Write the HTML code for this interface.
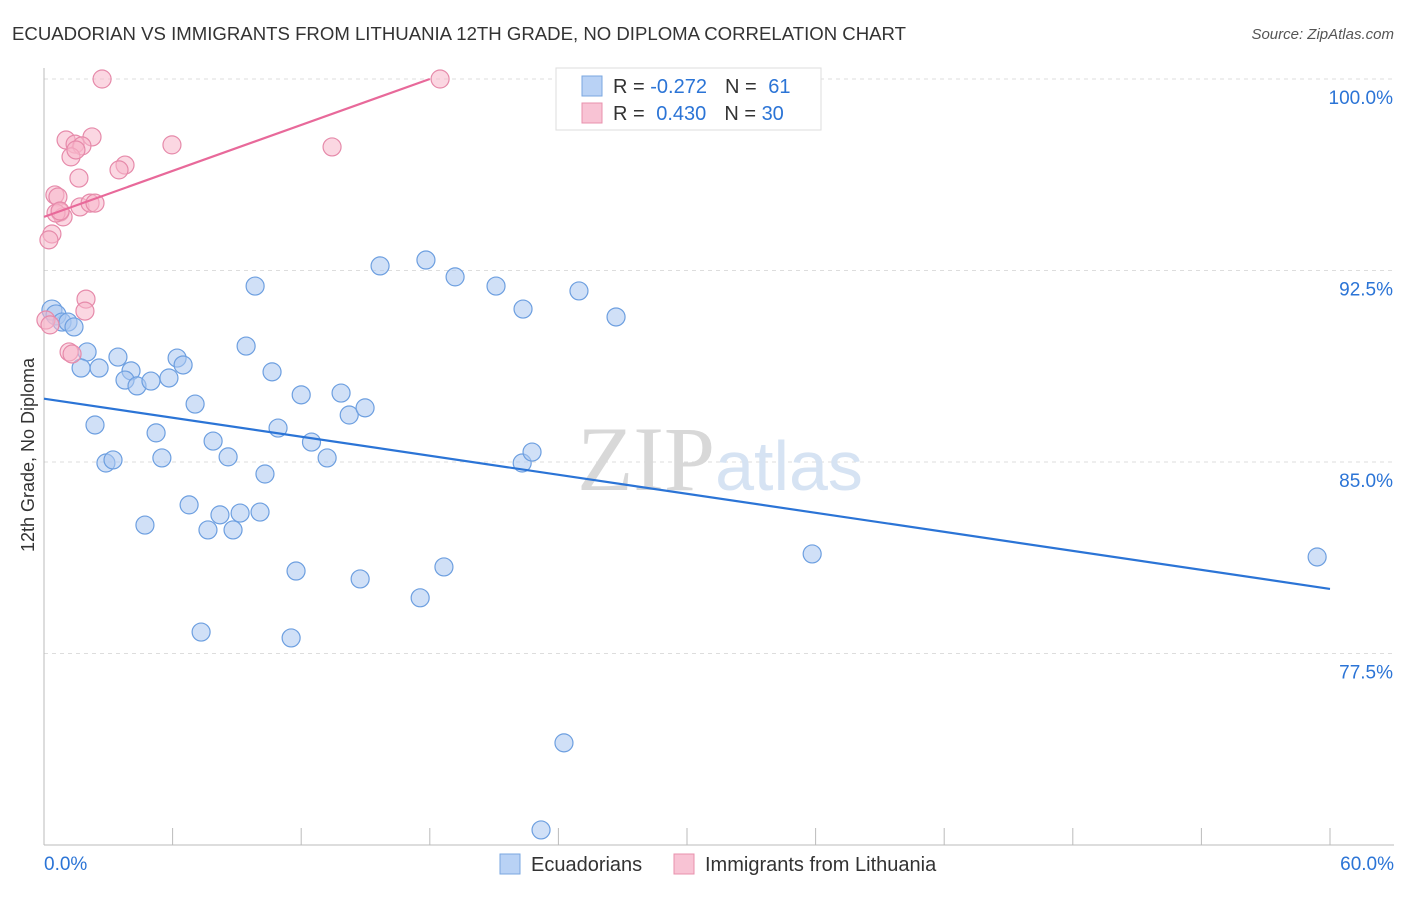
<!DOCTYPE html>
<html><head><meta charset="utf-8">
<style>
body{margin:0;background:#fff;font-family:"Liberation Sans",sans-serif;}
svg text{font-family:"Liberation Sans",sans-serif;}
</style></head>
<body>
<svg id="chart" width="1406" height="892" xmlns="http://www.w3.org/2000/svg">
<text x="12" y="40" font-size="18.6" fill="#333">ECUADORIAN VS IMMIGRANTS FROM LITHUANIA 12TH GRADE, NO DIPLOMA CORRELATION CHART</text>
<text x="1394" y="39" font-size="15" fill="#555" font-style="italic" text-anchor="end">Source: ZipAtlas.com</text>
<text x="34" y="455" font-size="18" fill="#333" text-anchor="middle" transform="rotate(-90 34 455)">12th Grade, No Diploma</text>
<g id="grid"></g>
<g id="axes"></g>
<text x="720" y="490" font-size="92" fill="#e4e4e4" text-anchor="middle" font-family="Liberation Serif"><tspan fill="#d8d8d8" font-family="Liberation Serif">ZIP</tspan><tspan fill="#d6e3f3" font-size="70" font-family="Liberation Sans">atlas</tspan></text>
<g id="marks"></g>
<g>
<rect x="556" y="68" width="265" height="62" fill="#fff" stroke="#ddd"/>
<rect x="582" y="76" width="20" height="20" fill="#b9d2f5" stroke="#7aa7e0"/>
<rect x="582" y="103" width="20" height="20" fill="#f8c3d4" stroke="#e890ad"/>
<text x="613" y="93" font-size="20" fill="#333">R = <tspan fill="#2b74d6">-0.272</tspan><tspan dx="18">N = </tspan><tspan fill="#2b74d6" dx="6">61</tspan></text>
<text x="613" y="120" font-size="20" fill="#333">R = <tspan fill="#2b74d6" dx="6">0.430</tspan><tspan dx="18">N = </tspan><tspan fill="#2b74d6">30</tspan></text>
</g>
<g>
<rect x="500" y="854" width="20" height="20" fill="#b9d2f5" stroke="#7aa7e0"/>
<text x="531" y="871" font-size="20" fill="#333">Ecuadorians</text>
<rect x="674" y="854" width="20" height="20" fill="#f8c3d4" stroke="#e890ad"/>
<text x="705" y="871" font-size="20" fill="#333">Immigrants from Lithuania</text>
</g>
</svg>
<script>
const yTicks=[100,92.5,85,77.5];
const yTickLabels=["100.0%","92.5%","85.0%","77.5%"];
const xTickLabels=["0.0%","60.0%"];
const blueX=[0.37,0.56,0.84,1.12,1.40,2.01,1.73,2.57,3.45,4.06,3.78,4.34,4.99,5.83,6.21,6.49,2.38,2.89,3.22,5.23,5.50,7.05,4.71,6.77,7.89,8.59,7.65,8.21,8.82,9.15,10.08,9.43,9.85,10.64,10.92,10.31,11.76,7.33,11.53,12.00,12.48,13.21,13.86,14.24,14.98,14.75,15.68,17.82,19.18,17.55,18.66,21.09,22.35,22.31,22.77,24.96,26.69,24.26,23.19,35.84,59.40];
const blueY=[90.95,90.76,90.48,90.48,90.29,89.31,88.68,88.68,89.11,88.57,88.21,87.98,88.17,88.29,89.07,88.80,86.45,84.96,85.08,86.14,85.16,87.27,82.53,83.32,85.82,85.20,82.34,82.93,82.34,83.00,83.04,89.54,91.89,88.53,86.33,84.53,80.73,78.34,78.11,87.63,85.78,85.16,87.70,86.84,87.12,80.42,92.68,92.91,92.25,79.68,80.89,91.89,90.99,84.96,85.39,91.70,90.68,74.00,70.59,81.40,81.28];
const pinkX=[2.71,18.48,1.03,2.24,1.45,1.77,1.26,1.49,5.97,13.44,3.78,3.50,1.63,0.51,0.65,0.75,0.89,1.68,2.15,2.38,0.37,0.23,1.96,1.91,1.17,1.31,0.09,0.28,0.56,0.75];
const pinkY=[100,100,97.61,97.73,97.45,97.38,96.95,97.22,97.42,97.34,96.63,96.44,96.12,95.46,95.38,94.79,94.60,94.99,95.14,95.14,93.93,93.70,91.38,90.91,89.31,89.23,90.56,90.37,94.75,94.83];
const blueTrend=[0,87.48,60,80.03];
const pinkTrend=[0,94.60,18.0,100];
const NS="http://www.w3.org/2000/svg";
const X0=44,X1=1330,Y100=79,PXPER=191.5/7.5;
function sx(v){return X0+(X1-X0)*v/60;}
function sy(v){return Y100+(100-v)*PXPER;}
function el(t,a,p){const e=document.createElementNS(NS,t);for(const k in a)e.setAttribute(k,a[k]);p.appendChild(e);return e;}
const grid=document.getElementById('grid'),axes=document.getElementById('axes'),marks=document.getElementById('marks');
yTicks.forEach((t,i)=>{
 const l=el('line',{x1:X0,x2:1394,y1:sy(t),y2:sy(t),stroke:'#ddd','stroke-dasharray':'4,4'},grid);
 
 
 const tx=el('text',{x:1393,y:sy(t)+25,'font-size':19,fill:'#2b74d6','text-anchor':'end'},axes);
 tx.textContent=yTickLabels[i];
 
 
});
const ax=el('line',{x1:X0,x2:X0,y1:68,y2:845,stroke:'#bbb'},axes);


const bx=el('line',{x1:X0,x2:1394,y1:845,y2:845,stroke:'#bbb'},axes);


for(let i=0;i<=10;i++){const tk=el('line',{x1:sx(i*6),x2:sx(i*6),y1:828,y2:845,stroke:'#bbb'},axes);
 
 }
[[0,'start',X0],[1,'end',1394]].forEach(([i,a,x])=>{const t=el('text',{x:x,y:870,'font-size':19,fill:'#2b74d6','text-anchor':a},axes);t.textContent=xTickLabels[i];
 
 });
function pts(xs,ys,fill,stroke,name){xs.forEach((x,i)=>{const r=(i<2&&name==='point-ecuadorian')?10:9;
 const c=el('circle',{cx:sx(x),cy:sy(ys[i]),r:r,fill:fill,'fill-opacity':0.55,stroke:stroke,'stroke-width':1.2},marks);
 
 });}
pts(blueX,blueY,'#a9c7f0','#6d9fe0','point-ecuadorian');
pts(pinkX,pinkY,'#f7b6cb','#e68aaa','point-lithuania');
const tb=el('line',{x1:sx(blueTrend[0]),y1:sy(blueTrend[1]),x2:sx(blueTrend[2]),y2:sy(blueTrend[3]),stroke:'#2b74d6','stroke-width':2.2},marks);


const tp=el('line',{x1:sx(pinkTrend[0]),y1:sy(pinkTrend[1]),x2:sx(pinkTrend[2]),y2:sy(pinkTrend[3]),stroke:'#e8699a','stroke-width':2.2},marks);


</script>
</body></html>
